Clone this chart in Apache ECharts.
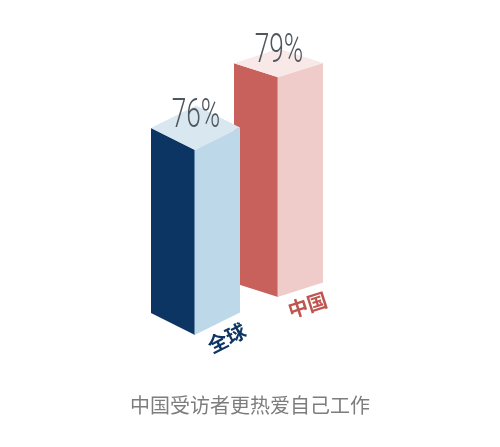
<!DOCTYPE html>
<html><head><meta charset="utf-8">
<script src="https://cdn.jsdelivr.net/npm/echarts@6/dist/echarts.min.js"></script>
<style>html,body{margin:0;padding:0;background:#fff}#c{width:500px;height:447px}</style>
</head><body><div id="c"></div>
<script>
// ---- data ----
const categories = ['全球', '中国'];
const values = [76, 79];
const valueLabels = ['76%', '79%'];
const titleText = '中国受访者更热爱自己工作';

// ---- styles ----
const palette = [
  {front:'#0d3563', side:'#bdd8e8', top:'#d9e7f1', label:'#0f3562'},
  {front:'#c8615b', side:'#efcbc9', top:'#f8e8e7', label:'#c0554f'}
];
const faceSlopes = [0.5, 0.32];   // perspective of each box
const depthSlope = 0.458;          // boxes recede up-right
const wL = 44, wR = 45;
const yMin = 60;

const chart = echarts.init(document.getElementById('c'));
chart.setOption({
  backgroundColor:'#fff',
  animation:false,
  title:{text:titleText, left:'center', top:390,
    textStyle:{fontFamily:'"Noto Sans CJK SC"', fontSize:20, fontWeight:'normal', color:'#7d7d7d'}},
  grid:{left:153.5, width:166, top:103.75, height:231.25},
  xAxis:{type:'category', data:categories, show:false},
  yAxis:{type:'value', min:yMin, max:80, show:false},
  series:[{
    type:'custom',
    data: categories.map((c,i)=>[c, values[i]]),
    renderItem(params, api){
      const i = params.dataIndex;
      const cx0 = api.coord([0, yMin])[0];
      const p0 = api.coord([api.value(0), yMin]);
      const p1 = api.coord([api.value(0), api.value(1)]);
      const cx = p0[0];
      const dy = -(cx - cx0) * depthSlope;
      const yb = p0[1] + dy, yt = p1[1] + dy;
      const s = faceSlopes[i];
      const rL = wL*s, rR = wR*s;
      const c = palette[i];
      const z = (categories.length - i) * 10;
      const nLen = Math.sqrt(1+s*s);
      const off = 16;
      const lx = cx + wR/2 + off*s/nLen + 2;
      const ly = yb - rR/2 + off/nLen;
      return {type:'group', children:[
        {type:'polygon', z2:z, shape:{points:[[cx-wL,yt-rL],[cx,yt],[cx,yb],[cx-wL,yb-rL]]}, style:{fill:c.front}},
        {type:'polygon', z2:z, shape:{points:[[cx-0.5,yt],[cx+wR,yt-rR],[cx+wR,yb-rR],[cx-0.5,yb]]}, style:{fill:c.side}},
        {type:'polygon', z2:z, shape:{points:[[cx-wL,yt-rL],[cx,yt],[cx+wR,yt-rR],[cx+wR-wL,yt-rL-rR]]}, style:{fill:c.top}},
        {type:'text', z2:z+5, x:cx+1, y:yt-rL-11, scaleX:0.64,
          style:{text:valueLabels[i], font:'300 41px Roboto', fill:'#50565e', align:'center', verticalAlign:'middle'}},
        {type:'text', z2:z+5, x:lx, y:ly, rotation:Math.atan(s),
          style:{text:categories[i], font:'bold 20px "Noto Sans CJK SC"', fill:c.label, align:'center', verticalAlign:'middle'}}
      ]};
    }
  }]
});
</script>
</body></html>
